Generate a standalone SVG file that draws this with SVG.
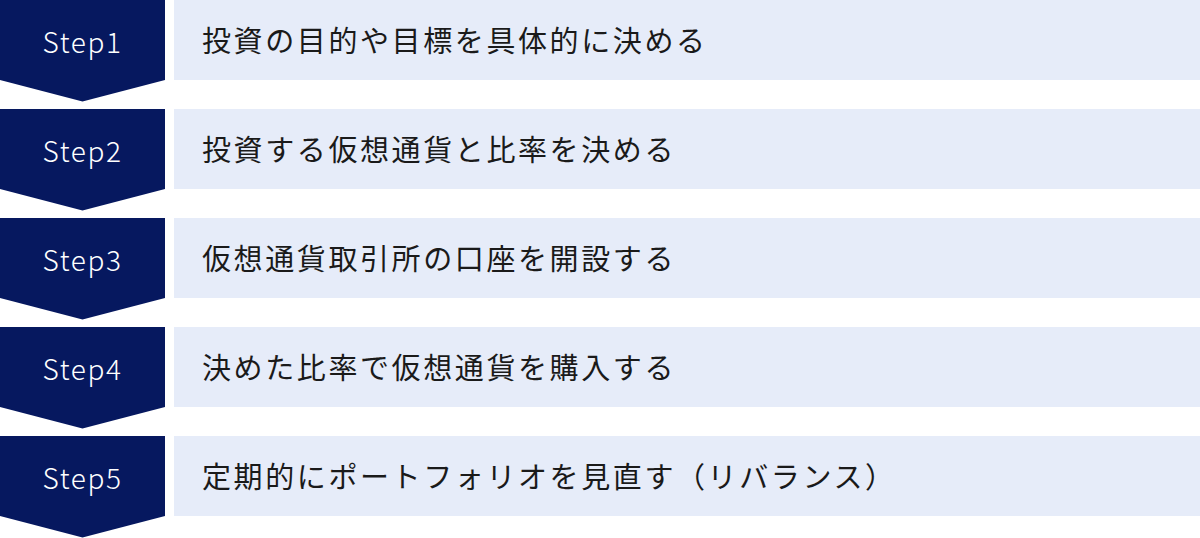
<svg xmlns="http://www.w3.org/2000/svg" width="1200" height="538" viewBox="0 0 1200 538">
<style>
.chev{fill:#06185f}
.bar{fill:#e6ecf9}
.step{font-family:"Noto Sans CJK JP","Noto Sans",sans-serif;font-size:28px;font-weight:300;fill:#ffffff;text-anchor:middle;letter-spacing:1.6px}
.lbl{font-family:"Noto Sans CJK JP",sans-serif;font-size:29px;fill:#1a1a1a;letter-spacing:2.6px}
</style>
<rect width="1200" height="538" fill="#ffffff"/>
<g id="connectors"></g>
<g id="step1" transform="translate(0,0)">
<polygon class="chev" points="0,0 165,0 165,80 82.5,101.5 0,80"/>
<rect class="bar" x="174" y="0" width="1026" height="80"/>
<text class="step" x="82.5" y="53">Step1</text>
<text class="lbl" x="202" y="51.5">投資の目的や目標を具体的に決める</text>
</g>
<g id="step2" transform="translate(0,109)">
<polygon class="chev" points="0,0 165,0 165,80 82.5,101.5 0,80"/>
<rect class="bar" x="174" y="0" width="1026" height="80"/>
<text class="step" x="82.5" y="53">Step2</text>
<text class="lbl" x="202" y="51.5">投資する仮想通貨と比率を決める</text>
</g>
<g id="step3" transform="translate(0,218)">
<polygon class="chev" points="0,0 165,0 165,80 82.5,101.5 0,80"/>
<rect class="bar" x="174" y="0" width="1026" height="80"/>
<text class="step" x="82.5" y="53">Step3</text>
<text class="lbl" x="202" y="51.5">仮想通貨取引所の口座を開設する</text>
</g>
<g id="step4" transform="translate(0,327)">
<polygon class="chev" points="0,0 165,0 165,80 82.5,101.5 0,80"/>
<rect class="bar" x="174" y="0" width="1026" height="80"/>
<text class="step" x="82.5" y="53">Step4</text>
<text class="lbl" x="202" y="51.5">決めた比率で仮想通貨を購入する</text>
</g>
<g id="step5" transform="translate(0,436)">
<polygon class="chev" points="0,0 165,0 165,80 82.5,101.5 0,80"/>
<rect class="bar" x="174" y="0" width="1026" height="80"/>
<text class="step" x="82.5" y="53">Step5</text>
<text class="lbl" x="202" y="51.5">定期的にポートフォリオを見直す（リバランス）</text>
</g>
</svg>
